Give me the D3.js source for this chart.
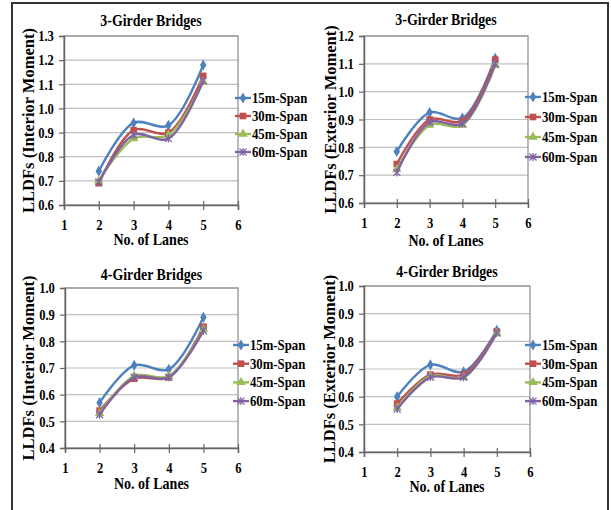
<!DOCTYPE html>
<html>
<head>
<meta charset="utf-8">
<script src="https://cdn.jsdelivr.net/npm/d3@7"></script>
<style>
  html, body { margin: 0; padding: 0; background: #fff; }
  svg text { font-family: "Liberation Serif", "Times New Roman", serif; font-weight: bold; fill: #000; }
</style>
</head>
<body>
<svg id="chart" width="611" height="510"></svg>
<script>
// ---- data ----
const lanes = [2, 3, 4, 5];
const spans = ['15m-Span', '30m-Span', '45m-Span', '60m-Span'];
const xTicks = [1, 2, 3, 4, 5, 6];

// LLDF values per span, lanes 2..5
const g3Interior = [
  [0.74, 0.94, 0.93, 1.18],
  [0.69, 0.91, 0.90, 1.135],
  [0.70, 0.875, 0.89, 1.11],
  [0.695, 0.89, 0.875, 1.115]
];
const g3Exterior = [
  [0.785, 0.925, 0.905, 1.12],
  [0.74, 0.90, 0.895, 1.115],
  [0.72, 0.88, 0.88, 1.095],
  [0.71, 0.89, 0.885, 1.10]
];
const g4Interior = [
  [0.57, 0.71, 0.695, 0.89],
  [0.54, 0.66, 0.665, 0.855],
  [0.53, 0.67, 0.67, 0.845],
  [0.525, 0.665, 0.665, 0.84]
];
const g4Exterior = [
  [0.60, 0.715, 0.69, 0.84],
  [0.575, 0.68, 0.68, 0.835],
  [0.56, 0.675, 0.67, 0.83],
  [0.555, 0.67, 0.67, 0.83]
];

const ticks3I = [0.6, 0.7, 0.8, 0.9, 1.0, 1.1, 1.2, 1.3];
const ticks3E = [0.6, 0.7, 0.8, 0.9, 1.0, 1.1, 1.2];
const ticks4  = [0.4, 0.5, 0.6, 0.7, 0.8, 0.9, 1.0];

const COLORS = ['#4F81BD', '#C0504D', '#9BBB59', '#8064A2'];
const SX = 0.84; // the source image is squeezed horizontally

// panel layout (plot rect in page px)
const panels = [
  { title: '3-Girder Bridges', yTitle: 'LLDFs (Interior Moment)', data: g3Interior, ticks: ticks3I,
    x0: 64, x1: 238, y0: 36, y1: 205, titleY: 26, yTitleX: 28, legX: 235, legY: 98, legGap: 18, labY: 245 },
  { title: '3-Girder Bridges', yTitle: 'LLDFs (Exterior Moment)', data: g3Exterior, ticks: ticks3E,
    x0: 364, x1: 528, y0: 36, y1: 203, titleY: 25, yTitleX: 330, legX: 525, legY: 97, legGap: 20, labY: 246 },
  { title: '4-Girder Bridges', yTitle: 'LLDFs (Interior Moment)', data: g4Interior, ticks: ticks4,
    x0: 65, x1: 238, y0: 288, y1: 448, titleY: 280, yTitleX: 28, legX: 233, legY: 345, legGap: 18.7, labY: 489 },
  { title: '4-Girder Bridges', yTitle: 'LLDFs (Exterior Moment)', data: g4Exterior, ticks: ticks4,
    x0: 364, x1: 530, y0: 286, y1: 452, titleY: 277, yTitleX: 329, legX: 525, legY: 345, legGap: 18.7, labY: 492 }
];

const svg = d3.select('#chart');

// outer frame
svg.append('rect')
  .attr('x', 12).attr('y', 3).attr('width', 596).attr('height', 530)
  .attr('fill', 'none').attr('stroke', '#333').attr('stroke-width', 2);

function label(g, txt, x, y, size, sx, anchor, rot) {
  return g.append('text')
    .attr('transform', `translate(${x},${y})${rot ? ' rotate(' + rot + ')' : ''} scale(${sx},1)`)
    .attr('text-anchor', anchor || 'middle')
    .style('font-size', size + 'px')
    .text(txt);
}

// marker drawing
function drawMarker(g, i, color) {
  if (i === 0) {
    g.append('path').attr('d', d3.symbol(d3.symbolDiamond, 36)()).attr('fill', color);
  } else if (i === 1) {
    g.append('path').attr('d', d3.symbol(d3.symbolSquare, 44)()).attr('fill', color);
  } else if (i === 2) {
    g.append('path').attr('d', d3.symbol(d3.symbolTriangle, 38)()).attr('fill', color);
  } else {
    g.append('path').attr('d', 'M-3.5,-3.5L3.5,3.5M-3.5,3.5L3.5,-3.5M0,-4L0,4')
      .attr('stroke', color).attr('stroke-width', 1.3).attr('fill', 'none');
  }
}

panels.forEach(p => {
  const x = d3.scaleLinear().domain([1, 6]).range([p.x0, p.x1]);
  const y = d3.scaleLinear().domain([p.ticks[0], p.ticks[p.ticks.length - 1]]).range([p.y1, p.y0]);
  const g = svg.append('g');

  // gridlines
  g.append('g').selectAll('line')
    .data(p.ticks.slice(1)).join('line')
    .attr('x1', p.x0).attr('x2', p.x1)
    .attr('y1', d => y(d)).attr('y2', d => y(d))
    .attr('stroke', '#c0c0c0').attr('stroke-width', 1.2);

  // plot border
  g.append('rect')
    .attr('x', p.x0).attr('y', p.y0)
    .attr('width', p.x1 - p.x0).attr('height', p.y1 - p.y0)
    .attr('fill', 'none').attr('stroke', '#8a8a8a').attr('stroke-width', 1.2);

  // y axis
  const yAxis = g.append('g').attr('transform', `translate(${p.x0},0)`)
    .call(d3.axisLeft(y).tickValues(p.ticks).tickFormat(d3.format('.1f')).tickSize(5).tickPadding(7));
  // x axis (ticks cross the axis line)
  const xAxis = g.append('g').attr('transform', `translate(0,${p.y1})`)
    .call(d3.axisBottom(x).tickValues(xTicks).tickFormat(d3.format('d')).tickSize(5).tickPadding(9));
  xAxis.selectAll('.tick line').attr('y1', -4);
  [yAxis, xAxis].forEach(a => {
    a.select('.domain').attr('stroke', '#666').attr('stroke-width', 1.5);
    a.selectAll('.tick line').attr('stroke', '#666').attr('stroke-width', 1.2);
    a.selectAll('.tick text').style('font-size', '15px').attr('fill', '#000')
      .attr('transform', `scale(${SX},1)`);
  });

  // series
  const line = d3.line()
    .x((d, i) => x(lanes[i]))
    .y(d => y(d))
    .curve(d3.curveCatmullRom.alpha(0.5));
  p.data.forEach((vals, si) => {
    g.append('path').datum(vals)
      .attr('d', line)
      .attr('fill', 'none').attr('stroke', COLORS[si]).attr('stroke-width', 2.4);
    vals.forEach((v, i) => {
      drawMarker(g.append('g').attr('transform', `translate(${x(lanes[i])},${y(v)})`), si, COLORS[si]);
    });
  });

  // titles
  label(g, p.title, (p.x0 + p.x1) / 2, p.titleY, 16, 0.87);
  label(g, 'No. of Lanes', (p.x0 + p.x1) / 2, p.labY, 16.5, 0.85);
  label(g, p.yTitle, p.yTitleX, (p.y0 + p.y1) / 2, 16.5, 1, 'middle', -90).attr('dy', '0.35em');

  // legend
  spans.forEach((s, si) => {
    const ly = p.legY + si * p.legGap;
    const lg = g.append('g');
    lg.append('line')
      .attr('x1', p.legX).attr('x2', p.legX + 16)
      .attr('y1', ly).attr('y2', ly)
      .attr('stroke', COLORS[si]).attr('stroke-width', 2.4);
    drawMarker(lg.append('g').attr('transform', `translate(${p.legX + 8},${ly})`), si, COLORS[si]);
    label(lg, s, p.legX + 17, ly, 14.5, 0.88, 'start').attr('dy', '0.35em');
  });
});
</script>
</body>
</html>
